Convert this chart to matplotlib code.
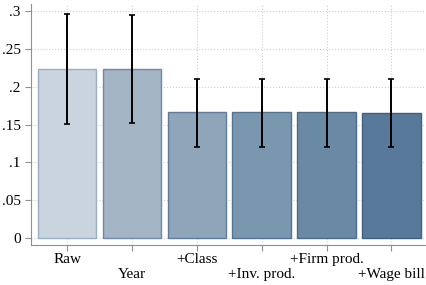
import matplotlib.pyplot as plt

# coefficient estimates and 95% CIs
labels = ["Raw", "Year", "+Class", "+Inv. prod.", "+Firm prod.", "+Wage bill"]
coef = [0.223, 0.223, 0.166, 0.166, 0.166, 0.165]
ci_low = [0.151, 0.152, 0.121, 0.121, 0.121, 0.120]
ci_high = [0.296, 0.295, 0.210, 0.210, 0.210, 0.210]

fills = ["#c9d4de", "#a3b4c5", "#8fa5ba", "#7b96af", "#6a89a5", "#58799a"]
edges = ["#9aafc2", "#6f8aa6", "#5f7c99", "#557491", "#4d6c8b", "#3f6083"]

plt.rcParams["font.family"] = ["Liberation Serif", "DejaVu Serif"]

fig = plt.figure(figsize=(4.27, 2.85), dpi=100)
ax = fig.add_axes([0.073, 0.14, 0.927, 0.846])

x = list(range(len(labels)))
ax.bar(x, coef, width=0.9, color=fills, edgecolor=edges, linewidth=1.0, zorder=2)
err = [[c - l for c, l in zip(coef, ci_low)], [h - c for c, h in zip(coef, ci_high)]]
ax.errorbar(x, coef, yerr=err, fmt="none", ecolor="black", elinewidth=1.4,
            capsize=2.2, capthick=1.2, zorder=3)

ax.set_xlim(-0.555, 5.55)
ax.set_ylim(-0.009, 0.309)
yt = [0, 0.05, 0.1, 0.15, 0.2, 0.25, 0.3]
ax.set_yticks(yt)
ax.set_yticklabels(["0", ".05", ".1", ".15", ".2", ".25", ".3"], fontsize=11)
ax.set_xticks(x)
ax.set_xticklabels([l if i % 2 == 0 else "\n" + l for i, l in enumerate(labels)], fontsize=11,
                   linespacing=1.12)

ax.grid(True, linestyle=":", color="#cfcfcf", linewidth=0.8, zorder=0)
ax.set_axisbelow(True)
for s in ["top", "right"]:
    ax.spines[s].set_visible(False)
for s in ["left", "bottom"]:
    ax.spines[s].set_color("#909090")
ax.tick_params(colors="#909090", labelcolor="black", length=4, width=0.8)
ax.tick_params(axis="x", pad=2)

fig.savefig("out.png", dpi=100)
